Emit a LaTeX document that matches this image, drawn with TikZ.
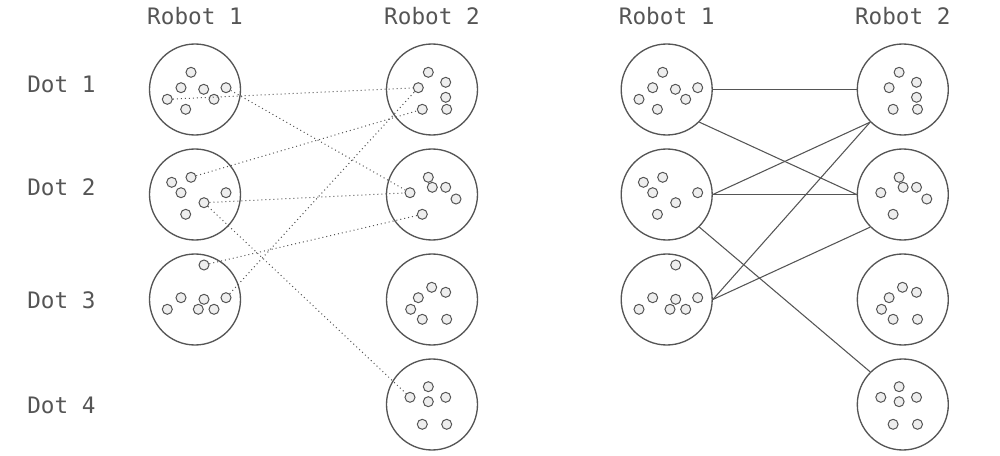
\documentclass[tikz,border=0pt]{standalone}
\usepackage{fontspec}
\setmonofont{DejaVu Sans Mono}
\definecolor{ink}{HTML}{555555}
\definecolor{txt}{HTML}{555555}
\definecolor{dotfill}{HTML}{EEEEEE}
\begin{document}
\begin{tikzpicture}[x=0.75pt,y=-0.75pt,
  bigc/.style={circle,draw=ink,line width=1pt,minimum size=68.25pt,inner sep=0pt},
  sdot/.style={circle,draw=ink,fill=dotfill,line width=0.75pt,minimum size=7.5pt,inner sep=0pt},
  lab/.style={text=txt,font=\ttfamily\fontsize{17}{20}\selectfont,inner sep=0pt},
  dotline/.style={draw=ink,line width=0.75pt,dash pattern=on 0.75pt off 2.25pt},
  solidline/.style={draw=ink,line width=0.8pt}]
\useasboundingbox (0,0) rectangle (1000,456);

\newcommand\patRa[1]{%
  \node[sdot] (#1a) at (-4,-17.2) {};
  \node[sdot] (#1b) at (-14,-1.8) {};
  \node[sdot] (#1c) at (8.7,-0.2) {};
  \node[sdot] (#1d) at (31,-1.8) {};
  \node[sdot] (#1e) at (-27.7,9.8) {};
  \node[sdot] (#1f) at (19,9.8) {};
  \node[sdot] (#1g) at (-9.3,19.8) {};}
\newcommand\patRb[1]{%
  \node[sdot] (#1a) at (-4,-17.2) {};
  \node[sdot] (#1b) at (-23.3,-12.2) {};
  \node[sdot] (#1c) at (-14,-1.8) {};
  \node[sdot] (#1d) at (31,-1.8) {};
  \node[sdot] (#1e) at (9,8.2) {};
  \node[sdot] (#1f) at (-9.3,19.8) {};}
\newcommand\patRc[1]{%
  \node[sdot] (#1a) at (9,-34.5) {};
  \node[sdot] (#1b) at (-14,-1.8) {};
  \node[sdot] (#1c) at (9,-0.2) {};
  \node[sdot] (#1d) at (31,-1.8) {};
  \node[sdot] (#1e) at (-27.7,9.8) {};
  \node[sdot] (#1f) at (3.3,9.8) {};
  \node[sdot] (#1g) at (19,9.8) {};}
\newcommand\patSa[1]{%
  \node[sdot] (#1a) at (-3.7,-17.2) {};
  \node[sdot] (#1b) at (13.7,-7.2) {};
  \node[sdot] (#1c) at (-13.7,-1.8) {};
  \node[sdot] (#1d) at (13.7,7.8) {};
  \node[sdot] (#1e) at (-9.7,19.8) {};
  \node[sdot] (#1f) at (14.7,19.8) {};}
\newcommand\patSb[1]{%
  \node[sdot] (#1a) at (-3.7,-17.2) {};
  \node[sdot] (#1b) at (0.3,-7.2) {};
  \node[sdot] (#1c) at (13.7,-7.2) {};
  \node[sdot] (#1d) at (24,4.5) {};
  \node[sdot] (#1e) at (-22,-1.8) {};
  \node[sdot] (#1f) at (-9.7,19.8) {};}
\newcommand\patSc[1]{%
  \node[sdot] (#1a) at (-0.3,-12.2) {};
  \node[sdot] (#1b) at (13.7,-7.2) {};
  \node[sdot] (#1c) at (-13.7,-1.8) {};
  \node[sdot] (#1d) at (-21.3,9.8) {};
  \node[sdot] (#1e) at (-9.7,19.8) {};
  \node[sdot] (#1f) at (14.7,19.8) {};}
\newcommand\patSd[1]{%
  \node[sdot] (#1a) at (-3.7,-17.8) {};
  \node[sdot] (#1b) at (-22,-7.2) {};
  \node[sdot] (#1c) at (-3.7,-2.8) {};
  \node[sdot] (#1d) at (13.7,-7.2) {};
  \node[sdot] (#1e) at (-9.7,19.8) {};
  \node[sdot] (#1f) at (14.7,19.8) {};}

% labels
\node[lab,anchor=base] (hL1) at (195,25) {Robot 1};
\node[lab,anchor=base] (hL2) at (432,25) {Robot 2};
\node[lab,anchor=base] (hR1) at (666.7,25) {Robot 1};
\node[lab,anchor=base] (hR2) at (902.8,25) {Robot 2};
\node[lab,anchor=base west] (d1) at (27,93) {Dot 1};
\node[lab,anchor=base west] (d2) at (27,196) {Dot 2};
\node[lab,anchor=base west] (d3) at (27,308) {Dot 3};
\node[lab,anchor=base west] (d4) at (27,413) {Dot 4};

% big circles
\node[bigc] (A1) at (195,89.5) {};
\node[bigc] (A2) at (195,194.5) {};
\node[bigc] (A3) at (195,299.5) {};
\node[bigc] (B1) at (432,89.5) {};
\node[bigc] (B2) at (432,194.5) {};
\node[bigc] (B3) at (432,299.5) {};
\node[bigc] (B4) at (432,404.5) {};
\node[bigc] (C1) at (666.7,89.5) {};
\node[bigc] (C2) at (666.7,194.5) {};
\node[bigc] (C3) at (666.7,299.5) {};
\node[bigc] (D1) at (902.8,89.5) {};
\node[bigc] (D2) at (902.8,194.5) {};
\node[bigc] (D3) at (902.8,299.5) {};
\node[bigc] (D4) at (902.8,404.5) {};

% small dots
\begin{scope}[shift={(195,89.5)}]\patRa{a1}\end{scope}
\begin{scope}[shift={(195,194.5)}]\patRb{a2}\end{scope}
\begin{scope}[shift={(195,299.5)}]\patRc{a3}\end{scope}
\begin{scope}[shift={(432,89.5)}]\patSa{b1}\end{scope}
\begin{scope}[shift={(432,194.5)}]\patSb{b2}\end{scope}
\begin{scope}[shift={(432,299.5)}]\patSc{b3}\end{scope}
\begin{scope}[shift={(432,404.5)}]\patSd{b4}\end{scope}
\begin{scope}[shift={(666.7,89.5)}]\patRa{c1}\end{scope}
\begin{scope}[shift={(666.7,194.5)}]\patRb{c2}\end{scope}
\begin{scope}[shift={(666.7,299.5)}]\patRc{c3}\end{scope}
\begin{scope}[shift={(902.8,89.5)}]\patSa{e1}\end{scope}
\begin{scope}[shift={(902.8,194.5)}]\patSb{e2}\end{scope}
\begin{scope}[shift={(902.8,299.5)}]\patSc{e3}\end{scope}
\begin{scope}[shift={(902.8,404.5)}]\patSd{e4}\end{scope}

% left panel dotted links
\draw[dotline] (a1e) -- (b1c);
\draw[dotline] (a1d) -- (b2e);
\draw[dotline] (a2a) -- (b1e);
\draw[dotline] (a2e) -- (b2e);
\draw[dotline] (a2e) -- (b4b);
\draw[dotline] (a3a) -- (b2f);
\draw[dotline] (a3d) -- (b1c);

% right panel solid links
\draw[solidline] (C1.east) -- (D1.west);
\draw[solidline] (C1.south east) -- (D2.west);
\draw[solidline] (C2.east) -- (D1.south west);
\draw[solidline] (C2.east) -- (D2.west);
\draw[solidline] (C2.south east) -- (D4.north west);
\draw[solidline] (C3.east) -- (D1.south west);
\draw[solidline] (C3.east) -- (D2.south west);
\end{tikzpicture}
\end{document}
